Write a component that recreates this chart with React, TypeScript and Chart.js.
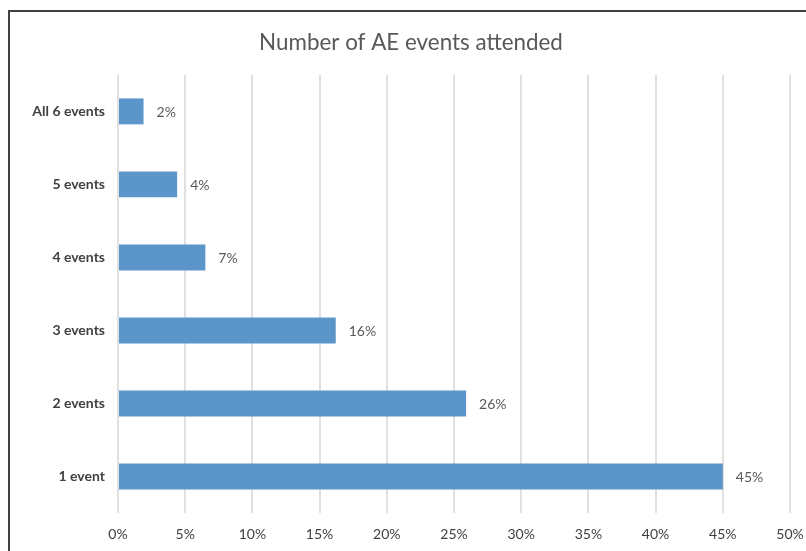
import React, { useEffect, useRef } from "react";
import { Chart, registerables } from "chart.js";

Chart.register(...registerables);

const categories = ["All 6 events", "5 events", "4 events", "3 events", "2 events", "1 event"];
const values = [1.9, 4.4, 6.5, 16.2, 25.9, 45.0];
const valueLabels = ["2%", "4%", "7%", "16%", "26%", "45%"];
const xTicks = [0, 5, 10, 15, 20, 25, 30, 35, 40, 45, 50];
const title = "Number of AE events attended";

const FONT = "Lato, 'Open Sans', sans-serif";

const dataLabelPlugin = {
  id: "dataLabels",
  afterDatasetsDraw(chart: any) {
    const ctx = chart.ctx;
    const meta = chart.getDatasetMeta(0);
    ctx.save();
    ctx.font = `14px ${FONT}`;
    ctx.fillStyle = "#595959";
    ctx.textAlign = "left";
    ctx.textBaseline = "middle";
    meta.data.forEach((bar: any, i: number) => {
      ctx.fillText(valueLabels[i], bar.x + 13, bar.y + 1);
    });
    ctx.restore();
  },
};

export default function App() {
  const ref = useRef<HTMLCanvasElement | null>(null);
  useEffect(() => {
    document.body.style.margin = "0";
    document.body.style.overflow = "hidden";
    const chart = new Chart(ref.current as HTMLCanvasElement, {
      type: "bar",
      data: {
        labels: categories,
        datasets: [
          {
            data: values,
            backgroundColor: "#5B95C9",
            borderColor: "#5B95C9",
            borderWidth: 0,
            categoryPercentage: 1,
            barPercentage: 0.355,
          },
        ],
      },
      options: {
        indexAxis: "y",
        animation: false,
        responsive: false,
        maintainAspectRatio: false,
        layout: { padding: { left: 32, right: 16, top: 0, bottom: 0 } },
        plugins: {
          legend: { display: false },
          tooltip: { enabled: false },
          title: {
            display: true,
            text: title,
            color: "#595959",
            font: { family: FONT, size: 22.4, weight: "normal" },
            padding: { top: 29, bottom: 19 },
          },
        },
        scales: {
          x: {
            min: 0,
            max: 50,
            afterBuildTicks: (scale: any) => {
              scale.ticks = xTicks.map((v) => ({ value: v }));
            },
            afterFit: (scale: any) => {
              scale.height = 38;
              scale.paddingLeft = 0;
              scale.paddingRight = 0;
            },
            grid: { color: "#e0e0e0", lineWidth: 2, drawTicks: false },
            border: { display: false },
            ticks: {
              color: "#404040",
              font: { family: FONT, size: 14 },
              padding: 13,
              callback: (v: any) => `${v}%`,
              maxRotation: 0,
            },
          },
          y: {
            afterFit: (scale: any) => {
              scale.width = 86;
              scale.paddingTop = 0;
              scale.paddingBottom = 0;
            },
            grid: { display: false, drawTicks: false },
            border: { display: false },
            ticks: {
              color: "#404040",
              font: { family: FONT, size: 14, weight: "bold" },
              padding: 13,
            },
          },
        },
      },
      plugins: [dataLabelPlugin],
    } as any);
    return () => chart.destroy();
  }, []);

  return (
    <div style={{ position: "fixed", left: 0, top: 0, width: 806, height: 551, overflow: "hidden", background: "#fff" }}>
      <div
        style={{
          position: "absolute",
          left: 8,
          top: 10,
          width: 1000,
          height: 1000,
          borderTop: "2px solid #404040",
          borderLeft: "2px solid #404040",
        }}
      />
      <canvas ref={ref} width={806} height={551} style={{ position: "absolute", left: 0, top: 0 }} />
    </div>
  );
}
